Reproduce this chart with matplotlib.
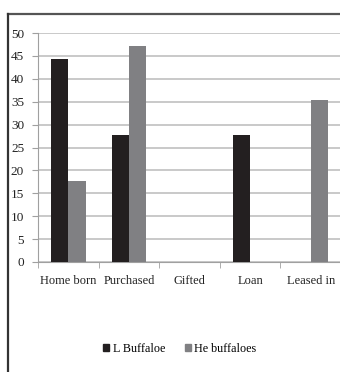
import matplotlib
matplotlib.use("Agg")
import matplotlib.pyplot as plt
from matplotlib.lines import Line2D
from matplotlib.patches import Patch
import numpy as np

categories = ["Home born", "Purchased", "Gifted", "Loan", "Leased in"]
l_buffaloe = [44.4, 27.8, 0, 27.8, 0]
he_buffaloes = [17.6, 47.1, 0, 0, 35.3]
series_names = ["L Buffaloe", "He buffaloes"]
y_ticks = [0, 5, 10, 15, 20, 25, 30, 35, 40, 45, 50]

plt.rcParams["font.family"] = ["Liberation Serif", "DejaVu Serif"]

W, H = 340, 372
fig = plt.figure(figsize=(W / 100, H / 100), dpi=100)
ax = fig.add_axes([38 / W, 1 - 262 / H, (W - 37) / W, (262 - 33) / H])

x = np.arange(len(categories))
bw = 0.285
dark = "#231f20"
grey = "#808083"
ax.bar(x - bw / 2, l_buffaloe, bw, color=dark, zorder=3)
ax.bar(x + bw / 2, he_buffaloes, bw, color=grey, zorder=3)

ax.set_xlim(-0.5, len(categories) - 0.5)
ax.set_ylim(0, 50)
ax.set_yticks(y_ticks)
ax.set_yticklabels([str(v) for v in y_ticks], fontsize=9.5, color="#222222")
ax.set_xticks(x)
ax.set_xticklabels(categories, fontsize=9, color="#222222")
ax.set_xticks(np.arange(-0.5, len(categories)), minor=True)
ax.tick_params(axis="x", which="major", length=0, pad=9)
ax.tick_params(axis="x", which="minor", length=4, color="#a0a0a0", direction="out")
ax.tick_params(axis="y", length=4, color="#a0a0a0", pad=6)

ax.grid(axis="y", color="#c0c0c0", linewidth=1.2, zorder=0)
for s in ["top", "right"]:
    ax.spines[s].set_visible(False)
ax.spines["left"].set_color("#a0a0a0")
ax.spines["bottom"].set_color("#a0a0a0")
ax.set_facecolor("none")

# outer frame: top and left edges
fig.add_artist(Line2D([8 / W, 1], [1 - 14 / H, 1 - 14 / H], color="#555555", lw=1.6,
                      transform=fig.transFigure))
fig.add_artist(Line2D([8 / W, 8 / W], [0, 1 - 14 / H], color="#333333", lw=1.6,
                      transform=fig.transFigure))

handles = [Patch(color=dark), Patch(color=grey)]
fig.legend(handles, series_names, loc="center", bbox_to_anchor=(180 / W, 1 - 349 / H),
           ncol=2, frameon=False, fontsize=8.7, handlelength=0.5, handleheight=0.5,
           handletextpad=0.3, columnspacing=1.6)

fig.savefig("out.png", dpi=100)
